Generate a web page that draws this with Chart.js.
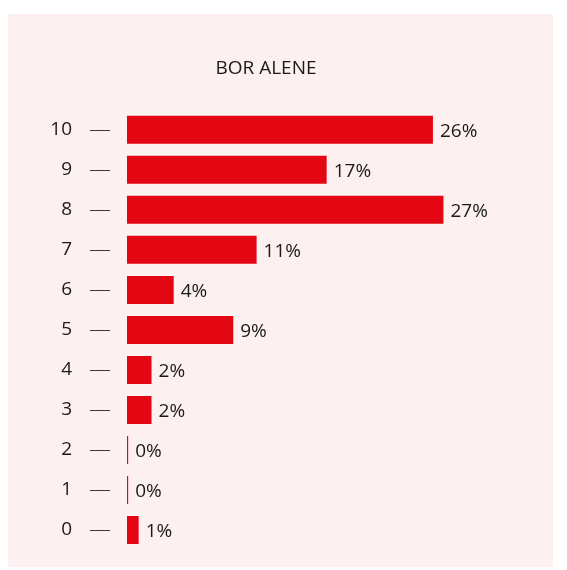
<!DOCTYPE html>
<html>
<head>
<meta charset="utf-8">
<script src="https://cdn.jsdelivr.net/npm/chart.js@4"></script>
<style>
    html, body { margin: 0; padding: 0; background: #ffffff; }
    #panel {
        position: absolute;
        left: 8px;
        top: 14px;
        width: 545px;
        height: 553px;
        background: #fdf0f0;
    }
    #chart { display: block; }
</style>
</head>
<body>
<div id="panel"><canvas id="chart" width="545" height="553"></canvas></div>
<script>
const title = "BOR ALENE";
const scores = ["10", "9", "8", "7", "6", "5", "4", "3", "2", "1", "0"];
const shares = [26.2, 17.1, 27.1, 11.1, 4.0, 9.1, 2.1, 2.1, 0.1, 0.1, 1.0];

const barRed = "#e30613";
const textColor = "#1a1a1a";
const fontFamily = "'Open Sans', sans-serif";

// little dashes between the score labels and the bars
const tickDashes = {
    id: "tickDashes",
    afterDraw(chart) {
        const ctx = chart.ctx;
        const yScale = chart.scales.y;
        const left = chart.chartArea.left;
        ctx.save();
        ctx.strokeStyle = "#3a3a3a";
        ctx.lineWidth = 1;
        yScale.ticks.forEach((t, i) => {
            const y = Math.round(yScale.getPixelForTick(i)) + 0.5;
            ctx.beginPath();
            ctx.moveTo(left - 37, y);
            ctx.lineTo(left - 17, y);
            ctx.stroke();
        });
        ctx.restore();
    }
};

const valueLabels = {
    id: "valueLabels",
    afterDatasetsDraw(chart) {
        const ctx = chart.ctx;
        const meta = chart.getDatasetMeta(0);
        ctx.save();
        ctx.font = "19px " + fontFamily;
        ctx.fillStyle = textColor;
        ctx.textAlign = "left";
        ctx.textBaseline = "middle";
        meta.data.forEach((bar, i) => {
            ctx.fillText(Math.round(shares[i]) + "%", bar.x + 7, bar.y + 2);
        });
        ctx.restore();
    }
};

new Chart(document.getElementById("chart").getContext("2d"), {
    type: "bar",
    data: {
        labels: scores,
        datasets: [{
            data: shares,
            backgroundColor: barRed,
            borderWidth: 0,
            barPercentage: 0.7,
            categoryPercentage: 1.0
        }]
    },
    options: {
        indexAxis: "y",
        responsive: false,
        animation: false,
        layout: {
            padding: { left: 0, right: 29, top: 0, bottom: 17 }
        },
        scales: {
            x: {
                min: 0,
                max: 34,
                display: false
            },
            y: {
                grid: { display: false, drawTicks: false },
                border: { display: false },
                ticks: {
                    padding: 55,
                    color: textColor,
                    font: { family: fontFamily, size: 19 }
                },
                afterFit(scale) {
                    scale.width = 119;
                    scale.paddingTop = 0;
                    scale.paddingBottom = 0;
                }
            }
        },
        plugins: {
            legend: { display: false },
            tooltip: { enabled: false },
            title: {
                display: true,
                text: title,
                color: textColor,
                font: { family: fontFamily, size: 19, weight: "normal" },
                padding: { top: 43, bottom: 30 }
            }
        }
    },
    plugins: [tickDashes, valueLabels]
});
</script>
</body>
</html>
